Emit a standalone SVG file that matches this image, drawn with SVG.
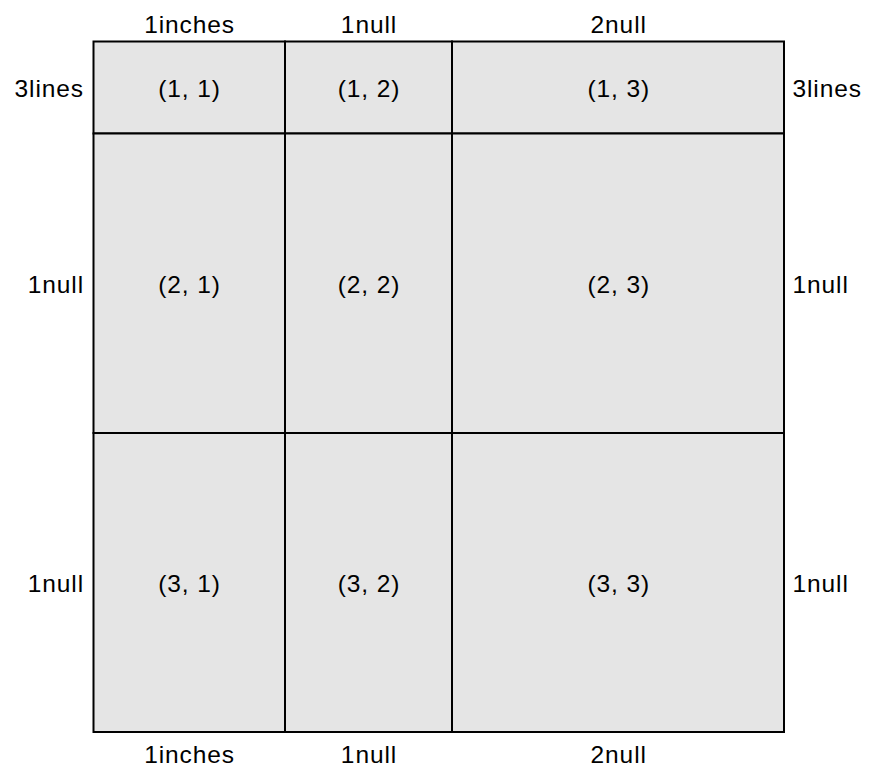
<svg xmlns="http://www.w3.org/2000/svg" width="869" height="770" viewBox="0 0 869 770">
<style>
text{font-family:"Liberation Sans",Arial,sans-serif;font-size:24.5px;letter-spacing:0.9px;fill:#000}
.c{text-anchor:middle}
.r{text-anchor:end}
.l{text-anchor:start}
.cell{fill:#e5e5e5;stroke:#000;stroke-width:2}
</style>
<rect x="0" y="0" width="869" height="770" fill="#fff"/>
<g id="cells">
<g id="c11"><rect class="cell" x="93.5" y="41.5" width="191.5" height="92"/><text class="c" x="189.5" y="97">(1, 1)</text></g>
<g id="c12"><rect class="cell" x="285" y="41.5" width="167" height="92"/><text class="c" x="369" y="97">(1, 2)</text></g>
<g id="c13"><rect class="cell" x="452" y="41.5" width="332" height="92"/><text class="c" x="618.7" y="97">(1, 3)</text></g>
<g id="c21"><rect class="cell" x="93.5" y="133.5" width="191.5" height="299.5"/><text class="c" x="189.5" y="292.5">(2, 1)</text></g>
<g id="c22"><rect class="cell" x="285" y="133.5" width="167" height="299.5"/><text class="c" x="369" y="292.5">(2, 2)</text></g>
<g id="c23"><rect class="cell" x="452" y="133.5" width="332" height="299.5"/><text class="c" x="618.7" y="292.5">(2, 3)</text></g>
<g id="c31"><rect class="cell" x="93.5" y="433" width="191.5" height="299"/><text class="c" x="189.5" y="592">(3, 1)</text></g>
<g id="c32"><rect class="cell" x="285" y="433" width="167" height="299"/><text class="c" x="369" y="592">(3, 2)</text></g>
<g id="c33"><rect class="cell" x="452" y="433" width="332" height="299"/><text class="c" x="618.7" y="592">(3, 3)</text></g>
</g>
<g id="labels">
<text class="c" x="189.5" y="32.5">1inches</text>
<text class="c" x="369" y="32.5">1null</text>
<text class="c" x="618.7" y="32.5">2null</text>
<text class="c" x="189.5" y="762.5">1inches</text>
<text class="c" x="369" y="762.5">1null</text>
<text class="c" x="618.7" y="762.5">2null</text>
<text class="r" x="84" y="96.5">3lines</text>
<text class="r" x="84" y="292.5">1null</text>
<text class="r" x="84" y="592">1null</text>
<text class="l" x="792.5" y="96.5">3lines</text>
<text class="l" x="792.5" y="292.5">1null</text>
<text class="l" x="792.5" y="592">1null</text>
</g>
</svg>
